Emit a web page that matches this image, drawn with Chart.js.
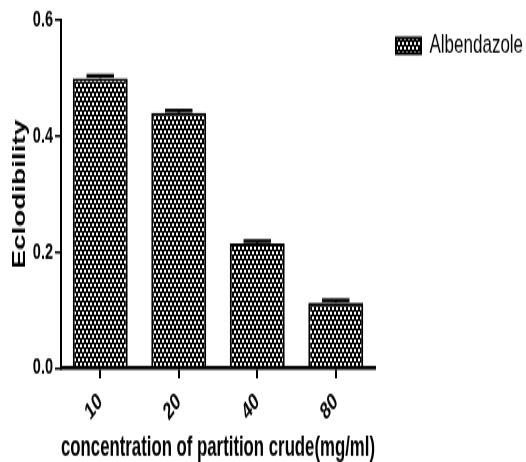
<!DOCTYPE html>
<html>
<head>
<meta charset="utf-8">
<script src="https://cdn.jsdelivr.net/npm/chart.js@4.4.1/dist/chart.umd.min.js"></script>
<style>
  html, body { margin: 0; padding: 0; background: #fff; overflow: hidden; }
</style>
</head>
<body>
<!-- the original picture is stretched vertically, so the canvas is drawn short and shown tall -->
<canvas id="eclodChart" width="526" height="298" style="display:block;width:526px;height:462px"></canvas>
<script>
const doseLabels = ["10", "20", "40", "80"];
const eclodibility = [0.50, 0.44, 0.215, 0.113];
const errorValues = [0.004, 0.004, 0.004, 0.004];
const seriesName = "Albendazole";
const yMin = 0, yMax = 0.6, yStep = 0.2;

const FONT = "'Liberation Sans', Arial, sans-serif";

function makePattern(ctx) {
    const tile = document.createElement("canvas");
    tile.width = 4;
    tile.height = 6;
    const t = tile.getContext("2d");
    t.fillStyle = "#000";
    t.fillRect(0, 0, 4, 6);
    t.fillStyle = "#fff";
    t.fillRect(0, 0, 2, 2);
    t.fillRect(2, 3, 2, 2);
    return ctx.createPattern(tile, "repeat");
}

// upper error bar with a thick cap, graphpad style
const errorBars = {
    id: "errorBars",
    afterDatasetsDraw(chart) {
        const ctx = chart.ctx;
        const y = chart.scales.y;
        const meta = chart.getDatasetMeta(0);
        ctx.save();
        ctx.strokeStyle = "#000";
        meta.data.forEach((bar, i) => {
            const top = y.getPixelForValue(eclodibility[i] + errorValues[i]);
            const half = bar.width / 4;
            ctx.lineWidth = 2;
            ctx.beginPath();
            ctx.moveTo(bar.x, bar.y);
            ctx.lineTo(bar.x, top);
            ctx.stroke();
            ctx.lineWidth = 2.5;
            ctx.beginPath();
            ctx.moveTo(bar.x - half, top);
            ctx.lineTo(bar.x + half, top);
            ctx.stroke();
        });
        ctx.restore();
    },
};

document.addEventListener("DOMContentLoaded", function () {
    const node = document.getElementById("eclodChart");
    const ctx = node.getContext("2d");

    new Chart(ctx, {
        type: "bar",
        data: {
            labels: doseLabels,
            datasets: [{
                label: seriesName,
                data: eclodibility,
                backgroundColor: makePattern(ctx),
                borderColor: "#000",
                borderWidth: 2,
                barPercentage: 0.7,
                categoryPercentage: 1.0,
            }],
        },
        options: {
            responsive: false,
            animation: false,
            devicePixelRatio: 1,
            events: [],
            layout: {padding: {left: 9, top: 0, right: 0, bottom: 0}},
            plugins: {
                legend: {
                    position: "right",
                    align: "start",
                    maxWidth: 151,
                    labels: {
                        color: "#000",
                        boxWidth: 25,
                        boxHeight: 10,
                        padding: 21,
                        font: {family: FONT, size: 17},
                    },
                },
                tooltip: {enabled: false},
            },
            scales: {
                x: {
                    grid: {
                        display: true,
                        drawOnChartArea: false,
                        offset: false,
                        color: "#000",
                        lineWidth: 2,
                        tickLength: 6.5,
                    },
                    border: {display: true, color: "#000", width: 2.5},
                    ticks: {
                        color: "#000",
                        minRotation: 42,
                        maxRotation: 42,
                        padding: 6,
                        font: {family: FONT, size: 15.5, weight: "bold"},
                    },
                    title: {
                        display: true,
                        text: "concentration of partition crude(mg/ml)",
                        color: "#000",
                        padding: {top: 0, bottom: -2},
                        font: {family: FONT, size: 17.8, weight: "bold"},
                    },
                    afterFit(scale) {
                        scale.height = 60.6;
                        scale.paddingLeft = 0;
                        scale.paddingRight = 0;
                    },
                },
                y: {
                    min: yMin,
                    max: yMax,
                    grid: {
                        display: true,
                        drawOnChartArea: false,
                        color: "#000",
                        lineWidth: 1.5,
                        tickLength: 6,
                    },
                    border: {display: true, color: "#000", width: 2},
                    ticks: {
                        stepSize: yStep,
                        color: "#000",
                        padding: 2,
                        font: {family: FONT, size: 14.5, weight: "bold"},
                        callback: function (value) {
                            return Number(value).toFixed(1);
                        },
                    },
                    title: {
                        display: true,
                        text: "Eclodibility",
                        color: "#000",
                        padding: 0,
                        font: {family: FONT, size: 18, weight: "bold"},
                    },
                    afterFit(scale) {
                        scale.width = 52;
                        scale.paddingTop = 13;
                        scale.paddingBottom = 0;
                    },
                },
            },
        },
        plugins: [errorBars],
    });
});
</script>
</body>
</html>
